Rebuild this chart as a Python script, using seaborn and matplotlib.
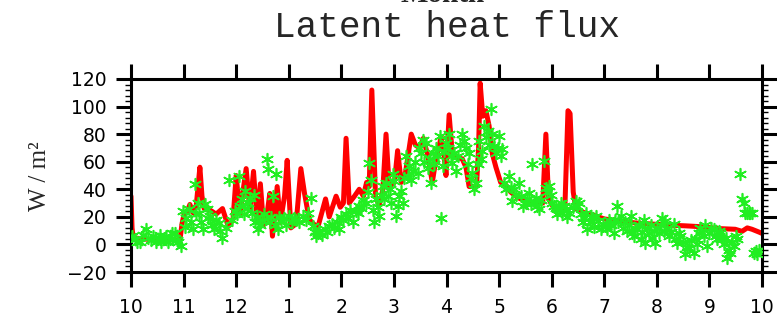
import matplotlib
matplotlib.use("Agg")
import matplotlib.pyplot as plt
import seaborn as sns
from matplotlib.ticker import MultipleLocator

# ---------------- data ----------------
month_ticks = list(range(13))
month_labels = ["10", "11", "12", "1", "2", "3", "4", "5", "6", "7", "8", "9", "10"]
flux_ticks = [-20, 0, 20, 40, 60, 80, 100, 120]

# model (red line): position in months since 1 Oct, latent heat flux (W/m2)
model_month = [0.00, 0.02, 0.04, 0.20, 0.45, 0.70, 0.93, 0.97, 1.01, 1.07,
               1.12, 1.18, 1.24, 1.31, 1.35, 1.39, 1.50, 1.62, 1.74, 1.85,
               1.94, 2.00, 2.07, 2.19, 2.26, 2.33, 2.40, 2.46, 2.52, 2.58,
               2.64, 2.69, 2.78, 2.84, 2.92, 2.97, 3.04, 3.14, 3.23, 3.30,
               3.39, 3.55, 3.70, 3.77, 3.90, 3.98, 4.04, 4.09, 4.15, 4.25,
               4.34, 4.42, 4.48, 4.53, 4.58, 4.65, 4.72, 4.79, 4.85, 4.91,
               5.01, 5.07, 5.14, 5.22, 5.33, 5.41, 5.49, 5.56, 5.64, 5.73,
               5.80, 5.90, 5.95, 5.99, 6.05, 6.11, 6.21, 6.30, 6.37, 6.43,
               6.57, 6.61, 6.64, 6.69, 6.75, 6.81, 6.87, 6.94, 7.03, 7.13,
               7.22, 7.35, 7.54, 7.73, 7.83, 7.89, 7.94, 8.05, 8.17, 8.25,
               8.31, 8.35, 8.41, 8.46, 8.62, 8.81, 9.00, 9.28, 9.59, 9.91,
               10.23, 10.54, 10.86, 11.18, 11.49, 11.62, 11.72, 11.81, 11.94, 12.00]
model_flux = [35, 12, 5, 4, 3.5, 3.5, 3, 15, 22, 24,
              29, 23, 28, 56, 35, 26, 25, 22, 26, 13,
              18, 50, 22, 55, 25, 53, 16, 44, 14, 20,
              37, 6, 42, 16, 35, 61, 12, 15, 55, 37,
              18, 12, 33, 20, 35, 27, 30, 77, 30, 35,
              40, 35, 45, 42, 112, 35, 28, 40, 80, 42,
              45, 68, 45, 52, 80, 72, 70, 77, 65, 45,
              62, 78, 66, 50, 94, 66, 63, 62, 56, 42,
              42, 70, 117, 93, 97, 86, 66, 56, 45, 43,
              38, 34, 31, 30, 30, 80, 33, 26, 25, 25,
              97, 95, 38, 26, 23, 21, 18.5, 17, 15.6, 14.8,
              14, 13.5, 12.8, 11.5, 11, 9.5, 12, 11, 9, 8]

# observations (green asterisks)
obs_month = [
    0.02, 0.07, 0.12, 0.165, 0.22, 0.29, 0.33, 0.38, 0.42, 0.47, 0.51, 0.55, 0.58, 0.62, 0.67, 0.71, 0.74, 0.78, 0.83, 0.87, 0.89, 0.945,
    0.99, 1.02, 1.05, 1.10, 1.15, 1.18, 1.21, 1.24, 1.27, 1.30, 1.34, 1.37, 1.40, 1.44, 1.47, 1.51, 1.54, 1.57, 1.62, 1.67, 1.70, 1.73, 1.80, 1.86, 1.92, 1.97,
    2.02, 2.05, 2.08, 2.11, 2.14, 2.17, 2.20, 2.23, 2.26, 2.30, 2.33, 2.36, 2.39, 2.42, 2.46, 2.49, 2.53, 2.58, 2.61, 2.64, 2.67, 2.70, 2.73, 2.76, 2.79, 2.82, 2.85, 2.91, 2.95,
    3.01, 3.06, 3.10, 3.14, 3.20, 3.27, 3.32, 3.36, 3.42, 3.46, 3.49, 3.52, 3.55, 3.58, 3.63, 3.68, 3.72, 3.77, 3.82, 3.87, 3.92, 3.96,
    4.00, 4.03, 4.08, 4.12, 4.17, 4.22, 4.27, 4.31, 4.34, 4.37, 4.41, 4.47, 4.50, 4.53, 4.56, 4.60, 4.63, 4.66, 4.69, 4.72, 4.76, 4.79, 4.82, 4.85, 4.88, 4.92, 4.95, 4.98,
    5.01, 5.04, 5.07, 5.10, 5.13, 5.17, 5.20, 5.23, 5.26, 5.29, 5.33, 5.36, 5.40, 5.45, 5.48, 5.52, 5.55, 5.58, 5.61, 5.64, 5.68, 5.71, 5.74, 5.77, 5.80, 5.84, 5.87, 5.90, 5.93, 5.96, 5.99,
    6.02, 6.05, 6.08, 6.11, 6.15, 6.18, 6.21, 6.25, 6.30, 6.33, 6.37, 6.40, 6.43, 6.46, 6.49, 6.53, 6.56, 6.59, 6.62, 6.65, 6.68, 6.71, 6.75, 6.78, 6.81, 6.84, 6.87, 6.90, 6.94, 6.97,
    7.00, 7.03, 7.06, 7.10, 7.14, 7.19, 7.22, 7.25, 7.29, 7.33, 7.38, 7.41, 7.45, 7.51, 7.54, 7.57, 7.60, 7.63, 7.66, 7.70, 7.73, 7.76, 7.80, 7.86, 7.89, 7.92, 7.95, 7.98,
    8.01, 8.05, 8.08, 8.11, 8.14, 8.17, 8.20, 8.24, 8.27, 8.30, 8.33, 8.40, 8.46, 8.49, 8.52, 8.56, 8.59, 8.62, 8.65, 8.68, 8.72, 8.75, 8.78, 8.81, 8.84, 8.88, 8.93, 8.97,
    9.03, 9.06, 9.09, 9.13, 9.18, 9.21, 9.24, 9.27, 9.31, 9.35, 9.40, 9.44, 9.47, 9.50, 9.53, 9.56, 9.59, 9.62, 9.66, 9.69, 9.72, 9.75, 9.78, 9.81, 9.85, 9.88, 9.91, 9.94, 9.97,
    10.01, 10.04, 10.07, 10.10, 10.13, 10.16, 10.20, 10.23, 10.27, 10.32, 10.36, 10.39, 10.42, 10.45, 10.50, 10.54, 10.58, 10.61, 10.65, 10.70, 10.74, 10.77, 10.80, 10.83, 10.86, 10.89, 10.92, 10.95, 10.99,
    11.03, 11.08, 11.12, 11.15, 11.18, 11.21, 11.24, 11.27, 11.31, 11.34, 11.37, 11.40, 11.43, 11.46, 11.50, 11.53, 11.59, 11.62, 11.65, 11.68, 11.71, 11.75, 11.78, 11.81, 11.84, 11.88, 11.91, 11.95,
]
obs_flux = [
    6, 4, 2, 1.4, 7, 11, 5, 3, 6.2, 2, 3.8, 7, 1.4, 4, 6.2, 2, 3.8, 8, 8.6, 3, 1.4, -1,
    24.3, 13, 19.4, 26, 16, 11, 43.6, 22, 30.3, 23, 16, 11, 29, 25.5, 19, 20.7, 14, 11, 18, 15.8, 10, 5, 12, 47, 18, 24,
    22, 49.6, 28, 33, 22, 38.8, 26.7, 30, 34, 23, 36, 16, 20, 11, 14, 18, 22, 61.7, 54.5, 16, 20, 35, 14, 50.8, 11, 20, 18, 19.4, 14,
    20.7, 16, 19, 18, 16, 20.7, 18, 23, 34, 13.4, 9, 6, 8, 9.8, 7, 11, 9, 13.4, 15, 12, 16, 11,
    20, 18, 22, 19.4, 25, 16, 24, 23, 28, 26.7, 32, 30.3, 38, 59, 47, 25, 16, 33, 27, 20.7, 36, 42.4, 33, 44.8, 35, 40, 30, 51,
    46, 20.7, 28, 35, 38.8, 30.3, 48, 64, 50, 57, 47, 53.3, 60, 52, 70, 66.5, 76, 60, 73.8, 55.7, 62, 44.8, 66.5, 58, 70, 64, 78.6, 19.4, 57, 68, 73.8,
    70, 80, 64, 59, 66, 53, 64, 72, 80, 75, 70, 58, 66.5, 48, 52, 40, 44.8, 58, 75, 62, 67.7, 86, 78, 82.2, 72, 98, 80, 71.4, 66, 70,
    78.6, 64, 69, 44.8, 40, 49.6, 42, 31.5, 40, 36, 44.8, 35, 28, 30.3, 33, 37.6, 29, 58, 31, 34, 28, 25.5, 32, 60.5, 41, 38, 42.4, 36,
    30.3, 28, 26.7, 22, 25.5, 30, 23, 28, 25.5, 20, 23, 27, 31.5, 28, 30.3, 22, 16, 19.4, 23, 11, 16, 20, 19.4, 13, 20.7, 17, 11, 15,
    13.4, 11, 18, 14, 8.6, 18, 28, 16, 20.7, 12, 16, 10, 14, 20.7, 8, 6.2, 12, 11, 14, 3.7, 9, 18, 1.3, 12, 8.6, 14, 5, 10, 1.3,
    12, 8.6, 14, 19.4, 10, 17, 12, 6.2, 9, 14.6, 4, 1.3, 8, 6.2, 2, -7.1, -2, -2.3, 3, -5.9, 4, 0.1, 8, 12.2, 9, 6.2, 14, -1, 8.6,
    12, 11, 6, 3.7, 10, 8.6, 4, 0.1, 5, -9.5, -4, -5.9, 2, -1, 6, 3.7, 50.8, 32.7, 30, 23, 23, 23, 23, 23, -5.9, -5, -7.1, -4,
]

# ---------------- plot ----------------
sns.set_style("ticks")
plt.rcParams["font.family"] = ["DejaVu Sans"]

W, H = 777, 321
fig = plt.figure(figsize=(W / 100, H / 100), dpi=100)
ax = fig.add_axes([131 / W, 49 / H, 631 / W, 193 / H])

sns.lineplot(x=model_month, y=model_flux, color="#ff0000", linewidth=3.6,
             estimator=None, sort=False, ax=ax,
             solid_joinstyle="round", solid_capstyle="round", zorder=2)
sns.scatterplot(x=obs_month, y=obs_flux, marker=(6, 2, 0), s=70,
                color="#22ee22", linewidth=1.2, ax=ax, zorder=3)

ax.set_xlim(0, 12)
ax.set_ylim(-20, 120)
ax.set_xticks(month_ticks)
ax.set_xticklabels(month_labels)
ax.set_yticks(flux_ticks)
ax.yaxis.set_minor_locator(MultipleLocator(4))
ax.set_xlabel("")
ax.set_ylabel("")

for s in ax.spines.values():
    s.set_visible(True)
    s.set_linewidth(2.2)
    s.set_color("black")

ax.tick_params(which="both", direction="out", top=True, right=True,
               bottom=True, left=True, labeltop=False, labelright=False,
               colors="black")
ax.tick_params(which="major", length=10.8, width=2.2)
ax.tick_params(which="minor", length=4.3, width=1.0)
ax.tick_params(axis="x", which="minor", top=False, bottom=False)
ax.tick_params(axis="y", which="major", labelsize=13.5, pad=7)
ax.tick_params(axis="x", which="major", labelsize=13.5, pad=8)

fig.text(40 / W, 1 - 176 / H, "W / m\u00b2", rotation=90,
         ha="center", va="center", fontsize=18, family=["Liberation Serif"])

fig.text(446.5 / W, 1 - 37.3 / H, "Latent heat flux", ha="center",
         va="baseline", fontsize=26, family=["Liberation Mono"])
fig.text(443 / W, 1 - 2.5 / H, "Month", ha="center", va="baseline",
         fontsize=21, fontweight="bold", family=["Liberation Serif"])

fig.savefig("out.png", dpi=100)
